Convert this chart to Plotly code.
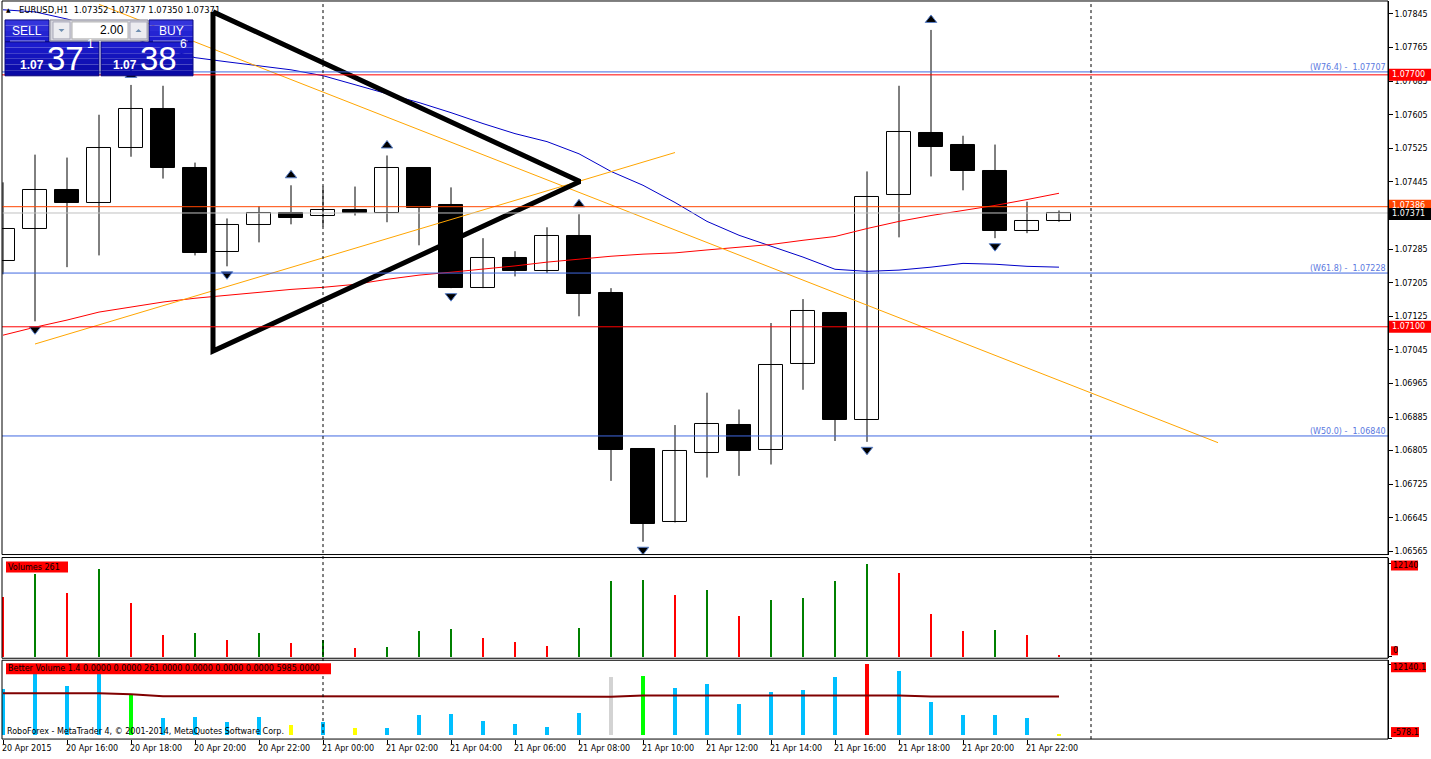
import plotly.graph_objects as go

W, H = 1431, 759

# ---------------- data ----------------
bars = list(range(34))  # 20 Apr 14:00 ... 21 Apr 23:00 (H1)
time_label_bars = list(range(0, 34, 2))
time_labels = ["20 Apr 2015", "20 Apr 16:00", "20 Apr 18:00", "20 Apr 20:00", "20 Apr 22:00",
               "21 Apr 00:00", "21 Apr 02:00", "21 Apr 04:00", "21 Apr 06:00", "21 Apr 08:00",
               "21 Apr 10:00", "21 Apr 12:00", "21 Apr 14:00", "21 Apr 16:00", "21 Apr 18:00",
               "21 Apr 20:00", "21 Apr 22:00"]
separator_bars = [10, 34]

opens = [1.07256, 1.07332, 1.07425, 1.07396, 1.07527, 1.07619, 1.07479, 1.07277, 1.07342, 1.07372,
         1.07365, 1.07377, 1.07372, 1.07477, 1.07389, 1.07192, 1.07265, 1.07232, 1.07316, 1.07180,
         1.06809, 1.06636, 1.06800, 1.06866, 1.06807, 1.07011, 1.07133, 1.06878, 1.07413, 1.07562,
         1.07534, 1.07470, 1.07327, 1.07352]
highs = [1.07444, 1.07510, 1.07503, 1.07605, 1.07676, 1.07674, 1.07491, 1.07358, 1.07387, 1.07437,
         1.07434, 1.07434, 1.07508, 1.07477, 1.07432, 1.07311, 1.07280, 1.07337, 1.07368, 1.07192,
         1.06809, 1.06866, 1.06943, 1.06903, 1.07109, 1.07166, 1.07133, 1.07470, 1.07674, 1.07807,
         1.07555, 1.07534, 1.07398, 1.07377]
lows = [1.07225, 1.07113, 1.07242, 1.07270, 1.07505, 1.07453, 1.07270, 1.07244, 1.07301, 1.07344,
        1.07339, 1.07365, 1.07349, 1.07294, 1.07192, 1.07192, 1.07220, 1.07228, 1.07125, 1.06733,
        1.06588, 1.06634, 1.06741, 1.06745, 1.06772, 1.06950, 1.06828, 1.06826, 1.07313, 1.07458,
        1.07425, 1.07311, 1.07323, 1.07350]
closes = [1.07332, 1.07425, 1.07394, 1.07527, 1.07619, 1.07479, 1.07275, 1.07342, 1.07372, 1.07360,
          1.07377, 1.07372, 1.07477, 1.07384, 1.07192, 1.07265, 1.07232, 1.07316, 1.07178, 1.06807,
          1.06631, 1.06805, 1.06869, 1.06805, 1.07009, 1.07137, 1.06878, 1.07410, 1.07565, 1.07529,
          1.07470, 1.07327, 1.07353, 1.07371]

ma_blue = [1.07855, 1.07850, 1.07833, 1.07812, 1.07788, 1.07764, 1.07741, 1.07731, 1.07722, 1.07712,
           1.07698, 1.07676, 1.07655, 1.07634, 1.07610, 1.07584, 1.07560, 1.07541, 1.07512, 1.07470,
           1.07437, 1.07396, 1.07351, 1.07318, 1.07292, 1.07266, 1.07237, 1.07232, 1.07235, 1.07242,
           1.07251, 1.07249, 1.07244, 1.07242]
ma_red = [1.07080, 1.07099, 1.07116, 1.07135, 1.07147, 1.07159, 1.07168, 1.07175, 1.07182, 1.07189,
          1.07194, 1.07201, 1.07213, 1.07223, 1.07230, 1.07237, 1.07245, 1.07254, 1.07261, 1.07268,
          1.07273, 1.07276, 1.07283, 1.07289, 1.07296, 1.07306, 1.07315, 1.07334, 1.07351, 1.07365,
          1.07377, 1.07389, 1.07403, 1.07418]

fractal_up_bars = [4, 9, 12, 18, 29]
fractal_down_bars = [1, 7, 14, 20, 27, 31]

volumes = [7830, 10830, 8350, 11480, 7050, 2870, 3130, 2220, 3130, 1830,
           2220, 1170, 1300, 3390, 3650, 2480, 1960, 1440, 3780, 9920,
           10050, 8090, 8740, 5350, 7440, 7700, 9920, 12140, 10960, 5610,
           3390, 3520, 2870, 261]
bv_kind = ["n", "n", "n", "n", "g", "n", "n", "n", "n", "y",
           "n", "y", "n", "n", "n", "n", "n", "n", "n", "w",
           "g", "n", "n", "n", "n", "n", "n", "r", "n", "n",
           "n", "n", "n", "y"]
bv_avg = [7230, 7230, 7230, 7230, 7060, 6720, 6720, 6720, 6720, 6720,
          6720, 6720, 6720, 6630, 6630, 6630, 6630, 6630, 6630, 6630,
          6830, 6830, 6830, 6830, 6830, 6830, 6830, 6830, 6830, 6660,
          6660, 6660, 6660, 6660]

# drawn objects (time index, price)
trend_up_t = [1, 21]
trend_up_p = [1.07059, 1.07515]
trend_down_t = [3.0, 37.97]
trend_down_p = [1.07868, 1.06824]
triangle_t = [6.5625, 18.03, 6.5625, 6.5625]
triangle_p = [1.07850, 1.07446, 1.07042, 1.07850]

fibo_levels = [1.07707, 1.07228, 1.06840]
fibo_names = ["(W76.4) -  1.07707", "(W61.8) -  1.07228", "(W50.0) -  1.06840"]
red_levels = [1.07700, 1.07100]
orange_level = 1.07386
bid_level = 1.07371
ask_level = 1.07386

price_ticks = [1.07845, 1.07765, 1.07685, 1.07605, 1.07525, 1.07445, 1.07365, 1.07285, 1.07205,
               1.07125, 1.07045, 1.06965, 1.06885, 1.06805, 1.06725, 1.06645, 1.06565]
price_tick_text = ["%.5f" % v for v in price_ticks]

header = "EURUSD,H1  1.07352 1.07377 1.07350 1.07371"

# ---------------- geometry ----------------
def X(px):
    return px / W

def Y(py):
    return 1 - py / H

MAIN_TOP, MAIN_BOT = 1, 556
VOL_TOP, VOL_BOT = 559, 660
BV_TOP, BV_BOT = 662, 741
LEFT, RIGHT = 2, 1388
PMAX, PMIN = 1.078759, 1.065576
x_range = [(LEFT - 3) / 32.0, (RIGHT - 3) / 32.0]
px_per_price = (MAIN_BOT - MAIN_TOP) / (PMAX - PMIN)

def price_px(p):
    return MAIN_TOP + (PMAX - p) * px_per_price

FONT = "DejaVu Sans"

fig = go.Figure()

# wicks
wx, wy = [], []
for i in bars:
    wx += [i, i, None]
    wy += [lows[i], highs[i], None]
fig.add_trace(go.Scatter(x=wx, y=wy, mode="lines", line=dict(color="black", width=1),
                         hoverinfo="skip", xaxis="x", yaxis="y"))

bull = [i for i in bars if closes[i] >= opens[i]]
bear = [i for i in bars if closes[i] < opens[i]]
for idx, fill in ((bull, "white"), (bear, "black")):
    fig.add_trace(go.Bar(x=idx,
                         y=[abs(closes[i] - opens[i]) for i in idx],
                         base=[min(closes[i], opens[i]) for i in idx],
                         width=0.72, marker=dict(color=fill, line=dict(color="black", width=1)),
                         xaxis="x", yaxis="y", hoverinfo="skip"))

# moving averages
fig.add_trace(go.Scatter(x=bars, y=ma_blue, mode="lines", line=dict(color="#0000C8", width=1),
                         xaxis="x", yaxis="y"))
fig.add_trace(go.Scatter(x=bars, y=ma_red, mode="lines", line=dict(color="#FF0000", width=1),
                         xaxis="x", yaxis="y"))

# trend lines
fig.add_trace(go.Scatter(x=trend_up_t, y=trend_up_p, mode="lines", line=dict(color="#FFA500", width=1),
                         xaxis="x", yaxis="y"))
fig.add_trace(go.Scatter(x=trend_down_t, y=trend_down_p, mode="lines", line=dict(color="#FFA500", width=1),
                         xaxis="x", yaxis="y"))

# triangle
fig.add_trace(go.Scatter(x=triangle_t, y=triangle_p, mode="lines", line=dict(color="black", width=5),
                         xaxis="x", yaxis="y"))

# fractals
up_off = 10 / px_per_price
dn_off = 8 / px_per_price
fig.add_trace(go.Scatter(x=fractal_up_bars, y=[highs[i] + up_off for i in fractal_up_bars], mode="markers",
                         marker=dict(symbol="triangle-up", size=10, color="black",
                                     line=dict(color="#5A80C8", width=1)),
                         xaxis="x", yaxis="y"))
fig.add_trace(go.Scatter(x=fractal_down_bars, y=[lows[i] - dn_off for i in fractal_down_bars], mode="markers",
                         marker=dict(symbol="triangle-down", size=10, color="black",
                                     line=dict(color="#5A80C8", width=1)),
                         xaxis="x", yaxis="y"))

# volumes
vol_colors = []
for i, v in enumerate(volumes):
    if i == 0:
        vol_colors.append("#FF0000")
    else:
        vol_colors.append("#008000" if v > volumes[i - 1] else "#FF0000")
fig.add_trace(go.Bar(x=bars, y=volumes, width=0.06, marker=dict(color=vol_colors, line=dict(width=0)),
                     xaxis="x", yaxis="y2"))

bv_palette = {"n": "#00BFFF", "g": "#00FF00", "y": "#FFFF00", "r": "#FF0000", "w": "#D3D3D3"}
fig.add_trace(go.Bar(x=bars, y=volumes, width=0.1,
                     marker=dict(color=[bv_palette[k] for k in bv_kind], line=dict(width=0)),
                     xaxis="x", yaxis="y3"))
fig.add_trace(go.Scatter(x=bars, y=bv_avg, mode="lines", line=dict(color="#800000", width=2),
                         xaxis="x", yaxis="y3"))

shapes = []
annotations = []

# horizontal levels
for lv in fibo_levels:
    shapes.append(dict(type="line", xref="x domain", yref="y", x0=0, x1=1, y0=lv, y1=lv,
                       line=dict(color="#4169E1", width=1)))
for lv in red_levels:
    shapes.append(dict(type="line", xref="x domain", yref="y", x0=0, x1=1, y0=lv, y1=lv,
                       line=dict(color="#FF0000", width=1)))
shapes.append(dict(type="line", xref="x domain", yref="y", x0=0, x1=1, y0=orange_level, y1=orange_level,
                   line=dict(color="#FF4500", width=1)))
shapes.append(dict(type="line", xref="x domain", yref="y", x0=0, x1=1, y0=bid_level, y1=bid_level,
                   line=dict(color="#C0C0C0", width=1)))

for lv, name in zip(fibo_levels, fibo_names):
    annotations.append(dict(xref="paper", yref="y", x=X(RIGHT - 1), y=lv, xanchor="right", yanchor="bottom",
                            text=name, showarrow=False, font=dict(family=FONT, size=8, color="#5A78E0"),
                            borderpad=0, yshift=-1))

# period separators
for s in separator_bars:
    shapes.append(dict(type="line", xref="x", yref="paper", x0=s, x1=s, y0=Y(BV_BOT), y1=Y(MAIN_TOP),
                       line=dict(color="black", width=1, dash="3px,3px")))

# panel frames
for t, b in ((MAIN_TOP, MAIN_BOT), (VOL_TOP, VOL_BOT), (BV_TOP, BV_BOT)):
    shapes.append(dict(type="rect", xref="paper", yref="paper", x0=X(LEFT), x1=X(RIGHT), y0=Y(b), y1=Y(t),
                       line=dict(color="black", width=1), fillcolor="rgba(0,0,0,0)"))

# right-side price labels (the orange ask label sits partly under the bid label, as in MT4)
def price_box(p, fill, txt_color, dy=0):
    yc = price_px(p) + dy
    shapes.append(dict(type="rect", xref="paper", yref="paper", x0=X(1389), x1=X(1431),
                       y0=Y(yc + 6), y1=Y(yc - 6), fillcolor=fill, line=dict(width=0)))
    annotations.append(dict(xref="paper", yref="paper", x=X(1391), y=Y(yc), xanchor="left", yanchor="middle",
                            text="%.5f" % p, showarrow=False,
                            font=dict(family=FONT, size=8, color=txt_color), borderpad=0))

price_box(orange_level, "#FF4500", "white", dy=-1)
price_box(bid_level, "black", "white", dy=1)
for lv in red_levels:
    price_box(lv, "#FF0000", "white")

# indicator labels
def label_box(x0, y0, x1, y1, text):
    shapes.append(dict(type="rect", xref="paper", yref="paper", x0=X(x0), x1=X(x1), y0=Y(y1), y1=Y(y0),
                       fillcolor="#FF0000", line=dict(width=0)))
    annotations.append(dict(xref="paper", yref="paper", x=X(x0 + 1), y=Y((y0 + y1) / 2), xanchor="left",
                            yanchor="middle", text=text, showarrow=False,
                            font=dict(family=FONT, size=8, color="black"), borderpad=0))

label_box(6, 563, 68, 574, "Volumes %d" % volumes[-1])
label_box(6, 665, 331, 676, "Better Volume 1.4 0.0000 0.0000 %.4f 0.0000 0.0000 0.0000 5985.0000" % volumes[-1])
label_box(1391, 562, 1418, 572, "%d" % max(volumes))
label_box(1391, 648, 1398, 657, "0")
label_box(1391, 664, 1426, 674, "12140.1")
label_box(1391, 729, 1419, 739, "-578.1")

# x-axis labels
for b, t in zip(time_label_bars, time_labels):
    annotations.append(dict(xref="x", yref="paper", x=b, y=Y(750), xanchor="left", yanchor="middle",
                            text=t, showarrow=False, font=dict(family=FONT, size=8, color="black"),
                            borderpad=0, xshift=-2))

# copyright
annotations.append(dict(xref="paper", yref="paper", x=X(6), y=Y(733), xanchor="left", yanchor="middle",
                        text="RoboForex - MetaTrader 4, © 2001-2014, MetaQuotes Software Corp.",
                        showarrow=False, font=dict(family=FONT, size=8, color="black"), borderpad=0))

# header
annotations.append(dict(xref="paper", yref="paper", x=X(5), y=Y(10), xanchor="left", yanchor="middle",
                        text="▲", showarrow=False, font=dict(family=FONT, size=6, color="black"), borderpad=0))
annotations.append(dict(xref="paper", yref="paper", x=X(18), y=Y(10), xanchor="left", yanchor="middle",
                        text=header, showarrow=False, font=dict(family=FONT, size=8.4, color="black"),
                        borderpad=0))

# one-click trading panel
def grad_rect(x0, y0, x1, y1, c_top, c_bot, steps=6):
    h = (y1 - y0) / steps
    for k in range(steps):
        f = k / max(steps - 1, 1)
        c = tuple(int(c_top[j] + (c_bot[j] - c_top[j]) * f) for j in range(3))
        shapes.append(dict(type="rect", xref="paper", yref="paper", x0=X(x0), x1=X(x1),
                           y0=Y(y0 + h * (k + 1)), y1=Y(y0 + h * k),
                           fillcolor="rgb(%d,%d,%d)" % c, line=dict(width=0)))
    shapes.append(dict(type="rect", xref="paper", yref="paper", x0=X(x0), x1=X(x1), y0=Y(y1), y1=Y(y0),
                       fillcolor="rgba(0,0,0,0)", line=dict(color="#0A0A80", width=1)))

top_c, mid_c, bot_c = (52, 52, 220), (28, 28, 205), (10, 10, 165)
grad_rect(5, 20, 49, 42, top_c, mid_c, 4)
grad_rect(149, 20, 193, 42, top_c, mid_c, 4)
grad_rect(5, 42, 99, 76, mid_c, bot_c, 6)
grad_rect(101, 42, 193, 76, mid_c, bot_c, 6)
for x0, x1 in ((10, 45), (153, 188)):
    shapes.append(dict(type="line", xref="paper", yref="paper", x0=X(x0), x1=X(x1), y0=Y(41), y1=Y(41),
                       line=dict(color="#9090E8", width=1)))
# spinner
shapes.append(dict(type="rect", xref="paper", yref="paper", x0=X(50), x1=X(148), y0=Y(41), y1=Y(20),
                   fillcolor="#D6D6DE", line=dict(color="#8A8A9A", width=1)))
shapes.append(dict(type="rect", xref="paper", yref="paper", x0=X(72), x1=X(128), y0=Y(39), y1=Y(22),
                   fillcolor="white", line=dict(color="#B0B0B0", width=1)))
for bx0, bx1, up in ((53, 70, False), (130, 147, True)):
    shapes.append(dict(type="rect", xref="paper", yref="paper", x0=X(bx0), x1=X(bx1), y0=Y(39), y1=Y(22),
                       fillcolor="#ECECF0", line=dict(color="#A8A8B8", width=1)))
    cx = (bx0 + bx1) / 2
    if up:
        path = "M %f %f L %f %f L %f %f Z" % (X(cx - 3), Y(32), X(cx + 3), Y(32), X(cx), Y(29))
    else:
        path = "M %f %f L %f %f L %f %f Z" % (X(cx - 3), Y(29), X(cx + 3), Y(29), X(cx), Y(32))
    shapes.append(dict(type="path", xref="paper", yref="paper", path=path, fillcolor="#6F8FB0",
                       line=dict(width=0)))

WF = "Liberation Sans"
def txt(x, y, s, size, anchor="left", bold=False, color="white"):
    annotations.append(dict(xref="paper", yref="paper", x=X(x), y=Y(y), xanchor=anchor, yanchor="middle",
                            text=("<b>%s</b>" % s) if bold else s, showarrow=False,
                            font=dict(family=WF, size=size, color=color), borderpad=0))

txt(27, 31, "SELL", 12, "center")
txt(171, 31, "BUY", 12, "center")
txt(125, 30, "2.00", 12, "right", color="black")
bid_str = "%.5f" % bid_level
ask_str = "%.5f" % ask_level
txt(19, 65, bid_str[:4], 12, bold=True)
txt(46, 59, bid_str[4:6], 33)
txt(86, 44, bid_str[6], 12)
txt(112, 65, ask_str[:4], 12, bold=True)
txt(139, 59, ask_str[4:6], 33)
txt(179, 44, ask_str[6], 12)

fig.update_layout(
    width=W, height=H, autosize=False,
    margin=dict(l=0, r=0, t=0, b=0),
    paper_bgcolor="white", plot_bgcolor="white",
    showlegend=False, barmode="overlay", bargap=0,
    hovermode=False,
    xaxis=dict(domain=[X(LEFT), X(RIGHT)], range=x_range, anchor="y3", showgrid=False, zeroline=False,
               showline=False, ticks="outside", ticklen=4, tickcolor="black", tickvals=time_label_bars,
               showticklabels=False, fixedrange=True),
    yaxis=dict(domain=[Y(MAIN_BOT), Y(MAIN_TOP)], range=[PMIN, PMAX], anchor="x", side="right",
               showgrid=False, zeroline=False, showline=True, linecolor="black", linewidth=1,
               ticks="outside", ticklen=4, tickcolor="black", tickvals=price_ticks, ticktext=price_tick_text,
               tickfont=dict(family=FONT, size=8, color="black")),
    yaxis2=dict(domain=[Y(VOL_BOT), Y(VOL_TOP)], range=[-261, 12920], anchor="x", side="right",
                showgrid=False, zeroline=False, showline=True, linecolor="black", showticklabels=False,
                ticks="outside", ticklen=3, tickvals=[0, 12140], tickcolor="black"),
    yaxis3=dict(domain=[Y(BV_BOT), Y(BV_TOP)], range=[-595, 12835], anchor="x", side="right",
                showgrid=False, zeroline=False, showline=True, linecolor="black", showticklabels=False,
                ticks="outside", ticklen=3, tickvals=[-578.1, 12140.1], tickcolor="black"),
    shapes=shapes, annotations=annotations,
)

fig.write_html("out.html", config={"displayModeBar": False})
